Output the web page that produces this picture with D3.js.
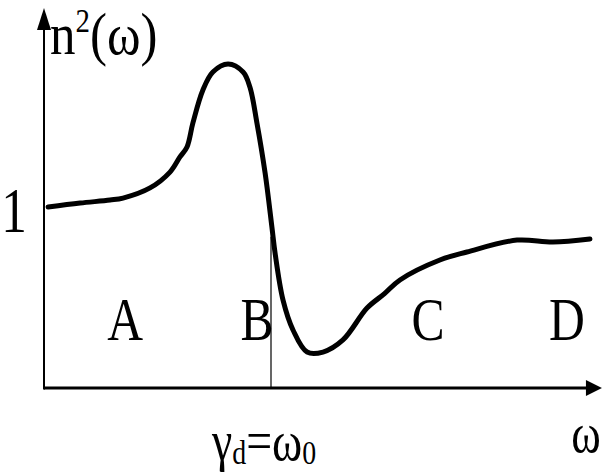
<!DOCTYPE html>
<html><head><meta charset="utf-8">
<script src="https://cdn.jsdelivr.net/npm/d3@7"></script>
<style>html,body{margin:0;padding:0;background:#fff;}svg{display:block;}text{font-family:"Liberation Serif","Times New Roman","DejaVu Serif",serif;fill:#000;}</style>
</head><body>
<script>
// frequency ω in units of ω0
const omega = [0.018,0.159,0.291,0.348,0.467,0.555,0.599,0.630,0.656,0.700,0.744,0.811,0.877,0.907,0.938,0.974,1.004,1.018,1.053,1.097,1.159,1.229,1.317,1.423,1.500,1.568,1.744,1.863,2.084,2.242,2.405];
// n^2(ω)
const n2 = [1.017,1.039,1.056,1.067,1.124,1.213,1.298,1.354,1.489,1.674,1.775,1.820,1.775,1.691,1.489,1.208,0.904,0.758,0.494,0.326,0.202,0.202,0.270,0.449,0.530,0.607,0.719,0.764,0.831,0.820,0.837];
const regionLabels = ["A","B","C","D"];
const regionCenters = [0.357,0.938,1.692,2.304];
const yTickValues = [1];
const yTickLabels = ["1"];
const omega0 = 1;

const W = 606, H = 476;
const svg = d3.select("body").append("svg").attr("width", W).attr("height", H);
const x = d3.scaleLinear().domain([0, 1]).range([44, 271]);
const y = d3.scaleLinear().domain([0, 1]).range([388, 210]);
const xMax = 2.458, yMax = 2.135;

// axes
svg.append("line").attr("x1", x(0)).attr("x2", x(xMax) - 10).attr("y1", y(0)).attr("y2", y(0))
  .attr("stroke", "#000").attr("stroke-width", 3);
svg.append("line").attr("x1", x(0)).attr("x2", x(0)).attr("y1", y(0) + 1.5).attr("y2", y(yMax) + 10)
  .attr("stroke", "#000").attr("stroke-width", 2);
// arrowheads
svg.append("path").attr("d", `M${x(xMax)},${y(0)} L${x(xMax)-16},${y(0)-8} L${x(xMax)-16},${y(0)+8} Z`).attr("fill", "#000");
svg.append("path").attr("d", `M${x(0)},${y(yMax)} L${x(0)-7},${y(yMax)+22} L${x(0)+7},${y(yMax)+22} Z`).attr("fill", "#000");

// vertical line at ω0
svg.append("line").attr("x1", x(omega0)).attr("x2", x(omega0)).attr("y1", y(0.85)).attr("y2", y(0))
  .attr("stroke", "#000").attr("stroke-width", 1.2);

// curve
const data = omega.map((w, i) => [w, n2[i]]);
svg.append("path").datum(data)
  .attr("d", d3.line().x(d => x(d[0])).y(d => y(d[1])).curve(d3.curveCatmullRom.alpha(0.5)))
  .attr("fill", "none").attr("stroke", "#000").attr("stroke-width", 5).attr("stroke-linecap", "round").attr("stroke-linejoin", "round");

function txt(cx, by, s, size, sx, anchor) {
  return svg.append("text").attr("transform", `translate(${cx},${by}) scale(${sx},1)`)
    .attr("text-anchor", anchor || "middle").attr("font-size", size).text(s);
}
// region labels
regionLabels.forEach((l, i) => txt(x(regionCenters[i]), 340, l, 62, 0.8));
// y tick label
yTickValues.forEach((v, i) => txt(14, y(v) + 22, yTickLabels[i], 64, 0.8));
// y axis title n²(ω)
const yt = svg.append("text").attr("transform", "translate(50,54) scale(0.85,1)").attr("font-size", 60);
yt.append("tspan").text("n");
yt.append("tspan").attr("font-size", 34).attr("dy", -22).text("2");
yt.append("tspan").attr("dy", 22).text("(ω)");
// x axis title ω
txt(586, 452, "ω", 56, 0.8);
// γd = ω0
const gt = svg.append("text").attr("transform", "translate(212,460) scale(0.82,1)").attr("font-size", 56);
gt.append("tspan").text("γ");
gt.append("tspan").attr("font-size", 34).attr("dy", 4).text("d");
gt.append("tspan").attr("dy", -4).text("=ω");
gt.append("tspan").attr("font-size", 34).attr("dy", 4).text("0");
</script>
</body></html>
